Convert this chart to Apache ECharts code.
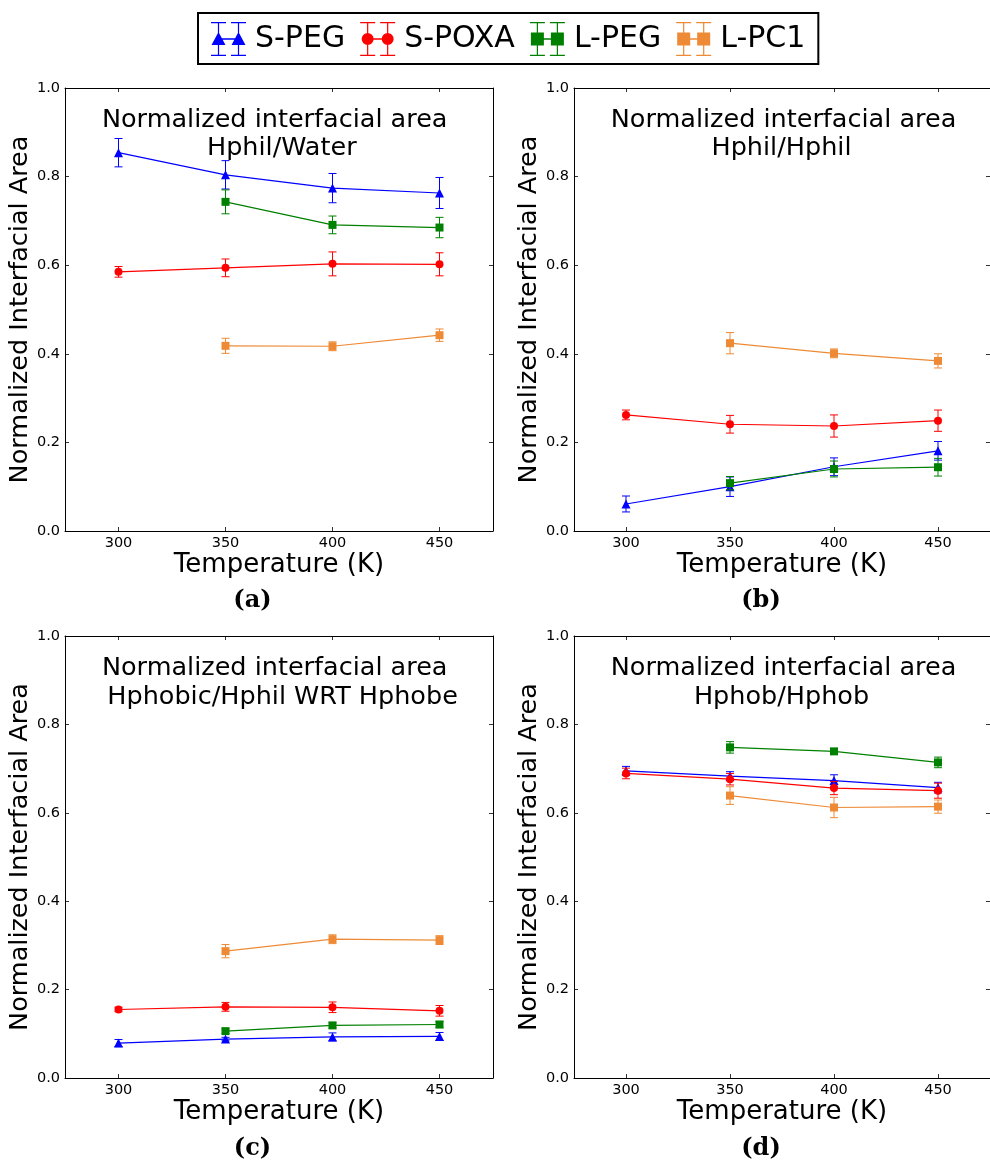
<!DOCTYPE html>
<html>
<head>
<meta charset="utf-8">
<script src="https://cdn.jsdelivr.net/npm/echarts@6/dist/echarts.min.js"></script>
<style>html,body{margin:0;padding:0;background:#fff}#c{width:990px;height:1161px}</style>
</head>
<body>
<div id="c"></div>
<script>
// ---- data ----
const temps = [300, 350, 400, 450];
const tempsL = [350, 400, 450];
const xTicks = [300, 350, 400, 450];
const seriesNames = ['S-PEG', 'S-POXA', 'L-PEG', 'L-PC1'];
const panelLabels = ['(a)', '(b)', '(c)', '(d)'];
const panelTitles1 = ['Normalized interfacial area', 'Normalized interfacial area', 'Normalized interfacial area', 'Normalized interfacial area'];
const panelTitles2 = ['Hphil/Water', 'Hphil/Hphil', ' Hphobic/Hphil WRT Hphobe', 'Hphob/Hphob'];

// panel (a)
const aSPEG = [0.854, 0.804, 0.774, 0.763];  const aSPEGErr = [0.032, 0.032, 0.033, 0.035];
const aSPOXA = [0.585, 0.594, 0.603, 0.602]; const aSPOXAErr = [0.012, 0.020, 0.027, 0.026];
const aLPEG = [0.743, 0.691, 0.685];         const aLPEGErr = [0.027, 0.020, 0.023];
const aLPC1 = [0.418, 0.417, 0.442];         const aLPC1Err = [0.017, 0.010, 0.014];
// panel (b)
const bSPEG = [0.061, 0.100, 0.145, 0.181];  const bSPEGErr = [0.018, 0.022, 0.020, 0.021];
const bSPOXA = [0.262, 0.241, 0.237, 0.249]; const bSPOXAErr = [0.011, 0.020, 0.025, 0.024];
const bLPEG = [0.108, 0.140, 0.144];         const bLPEGErr = [0.015, 0.018, 0.020];
const bLPC1 = [0.424, 0.401, 0.384];         const bLPC1Err = [0.024, 0.010, 0.016];
// panel (c)
const cSPEG = [0.079, 0.088, 0.093, 0.094];  const cSPEGErr = [0.008, 0.004, 0.009, 0.009];
const cSPOXA = [0.155, 0.161, 0.160, 0.152]; const cSPOXAErr = [0.005, 0.010, 0.012, 0.012];
const cLPEG = [0.106, 0.119, 0.121];         const cLPEGErr = [0.005, 0.006, 0.007];
const cLPC1 = [0.287, 0.314, 0.312];         const cLPC1Err = [0.015, 0.010, 0.010];
// panel (d)
const dSPEG = [0.695, 0.683, 0.673, 0.657];  const dSPEGErr = [0.010, 0.010, 0.013, 0.012];
const dSPOXA = [0.689, 0.676, 0.656, 0.650]; const dSPOXAErr = [0.012, 0.013, 0.015, 0.017];
const dLPEG = [0.748, 0.739, 0.714];         const dLPEGErr = [0.013, 0.006, 0.012];
const dLPC1 = [0.639, 0.612, 0.614];         const dLPC1Err = [0.020, 0.023, 0.015];

const panels = [
  [[aSPEG, aSPEGErr], [aSPOXA, aSPOXAErr], [aLPEG, aLPEGErr], [aLPC1, aLPC1Err]],
  [[bSPEG, bSPEGErr], [bSPOXA, bSPOXAErr], [bLPEG, bLPEGErr], [bLPC1, bLPC1Err]],
  [[cSPEG, cSPEGErr], [cSPOXA, cSPOXAErr], [cLPEG, cLPEGErr], [cLPC1, cLPC1Err]],
  [[dSPEG, dSPEGErr], [dSPOXA, dSPOXAErr], [dLPEG, dLPEGErr], [dLPC1, dLPC1Err]]
];

// ---- styles ----
const colors = ['#0000ff', '#ff0000', '#008000', '#ee8a35'];
const symbols = ['triangle', 'circle', 'rect', 'rect'];
const symbolSizes = [9, 8, 8, 8];
const FONT = 'DejaVu Sans';

const grids = [
  {left: 65, top: 88, width: 428, height: 443},
  {left: 574, top: 88, width: 427, height: 443},
  {left: 65, top: 636, width: 428, height: 442},
  {left: 574, top: 636, width: 427, height: 442}
];

const bars = 'M6.9 0h1.2v34h-1.2Z M26.9 0h1.2v34h-1.2Z M0 0h15v1.2h-15Z M0 32.8h15v1.2h-15Z M20 0h15v1.2h-15Z M20 32.8h15v1.2h-15Z M7.5 16.3h20v1.4h-20Z ';
const markerPaths = [
  'M7.5 10L14.5 23L0.5 23Z M27.5 10L34.5 23L20.5 23Z',
  'M1.5 17A6 6 0 1 1 13.5 17A6 6 0 1 1 1.5 17Z M21.5 17A6 6 0 1 1 33.5 17A6 6 0 1 1 21.5 17Z',
  'M1 10.5h13v13h-13Z M21 10.5h13v13h-13Z',
  'M1 10.5h13v13h-13Z M21 10.5h13v13h-13Z'
];

function errRender(params, api) {
  const x = api.value(0), y = api.value(1), e = api.value(2);
  const t = api.coord([x, y + e]);
  const b = api.coord([x, y - e]);
  const c = api.visual('color');
  const w = 4;
  const st = {stroke: c, lineWidth: 1};
  return {
    type: 'group',
    children: [
      {type: 'line', shape: {x1: t[0], y1: t[1], x2: b[0], y2: b[1]}, style: st},
      {type: 'line', shape: {x1: t[0] - w, y1: t[1], x2: t[0] + w, y2: t[1]}, style: st},
      {type: 'line', shape: {x1: b[0] - w, y1: b[1], x2: b[0] + w, y2: b[1]}, style: st}
    ]
  };
}

const xAxes = [], yAxes = [], series = [], graphics = [];
grids.forEach((g, p) => {
  const base = {
    gridIndex: p, type: 'value', min: 275, max: 475,
    axisLine: {show: true, onZero: false, lineStyle: {color: '#000', width: 1}},
    splitLine: {show: false}
  };
  xAxes.push(Object.assign({}, base, {
    position: 'bottom',
    axisTick: {show: true, inside: true, length: 4, customValues: xTicks, lineStyle: {color: '#000', width: 0.8}},
    axisLabel: {show: true, customValues: xTicks, margin: 5, fontSize: 14.5, color: '#000', fontFamily: FONT},
    name: 'Temperature (K)', nameLocation: 'middle', nameGap: 14,
    nameTextStyle: {fontSize: 26, color: '#000', fontFamily: FONT}
  }));
  xAxes.push(Object.assign({}, base, {
    position: 'top',
    axisTick: {show: true, inside: true, length: 4, customValues: xTicks, lineStyle: {color: '#000', width: 0.8}},
    axisLabel: {show: false}
  }));
  const ybase = {
    gridIndex: p, type: 'value', min: 0, max: 1, interval: 0.2,
    axisLine: {show: true, onZero: false, lineStyle: {color: '#000', width: 1}},
    axisTick: {show: true, inside: true, length: 4, lineStyle: {color: '#000', width: 0.8}},
    splitLine: {show: false}
  };
  yAxes.push(Object.assign({}, ybase, {
    position: 'left',
    axisLabel: {show: true, margin: 5, fontSize: 14.5, color: '#000', fontFamily: FONT, formatter: v => v.toFixed(1)},
    name: 'Normalized Interfacial Area', nameLocation: 'middle', nameGap: 26,
    nameTextStyle: {fontSize: 25.5, color: '#000', fontFamily: FONT}
  }));
  yAxes.push(Object.assign({}, ybase, {position: 'right', axisLabel: {show: false}}));

  panels[p].forEach((pair, s) => {
    const vals = pair[0], errs = pair[1];
    const xs = vals.length === 4 ? temps : tempsL;
    series.push({
      type: 'line', name: seriesNames[s], xAxisIndex: 2 * p, yAxisIndex: 2 * p,
      data: xs.map((x, i) => [x, vals[i]]),
      symbol: symbols[s], symbolSize: symbolSizes[s], showSymbol: true,
      itemStyle: {color: colors[s], borderWidth: 0},
      lineStyle: {color: colors[s], width: 1.2},
      z: 3 + s, animation: false, silent: true
    });
    series.push({
      type: 'custom', name: seriesNames[s], xAxisIndex: 2 * p, yAxisIndex: 2 * p,
      data: xs.map((x, i) => [x, vals[i], errs[i]]),
      encode: {x: 0, y: 1},
      renderItem: errRender,
      itemStyle: {color: colors[s]},
      z: 3 + s, animation: false, silent: true
    });
  });
});

const titleX1 = [274.7, 783.5, 274.7, 783.5];
const titleX2 = [281.8, 781.5, 278.5, 781.5];
const titleY1 = [120, 120, 668, 668];
const titleY2 = [148.5, 148.5, 697.5, 697.5];
const labelX = [252.5, 761, 252.5, 761];
const labelY = [601, 601, 1149, 1149];
for (let p = 0; p < 4; p++) {
  graphics.push({type: 'text', x: titleX1[p], y: titleY1[p], style: {text: panelTitles1[p], font: '25.5px "DejaVu Sans"', fill: '#000', align: 'center', verticalAlign: 'middle'}});
  graphics.push({type: 'text', x: titleX2[p], y: titleY2[p], style: {text: panelTitles2[p], font: '25.5px "DejaVu Sans"', fill: '#000', align: 'center', verticalAlign: 'middle'}});
  graphics.push({type: 'text', x: labelX[p], y: labelY[p], style: {text: panelLabels[p], font: 'bold 24px "DejaVu Serif"', fill: '#000', align: 'center', verticalAlign: 'middle'}});
}

const chart = echarts.init(document.getElementById('c'), null, {renderer: 'canvas'});
chart.setOption({
  backgroundColor: '#fff',
  animation: false,
  grid: grids,
  xAxis: xAxes,
  yAxis: yAxes,
  legend: {
    left: 198, top: 13,
    data: seriesNames.map((n, i) => ({name: n, icon: 'path://' + bars + markerPaths[i]})),
    itemWidth: 35, itemHeight: 34, itemGap: 15,
    padding: [9, 13, 8, 13],
    borderColor: '#000', borderWidth: 2,
    itemStyle: {borderWidth: 0},
    textStyle: {fontSize: 30, color: '#000', fontFamily: FONT, padding: [0, 0, 0, 4]},
    selectedMode: false
  },
  graphic: graphics,
  series: series
});
</script>
</body>
</html>
